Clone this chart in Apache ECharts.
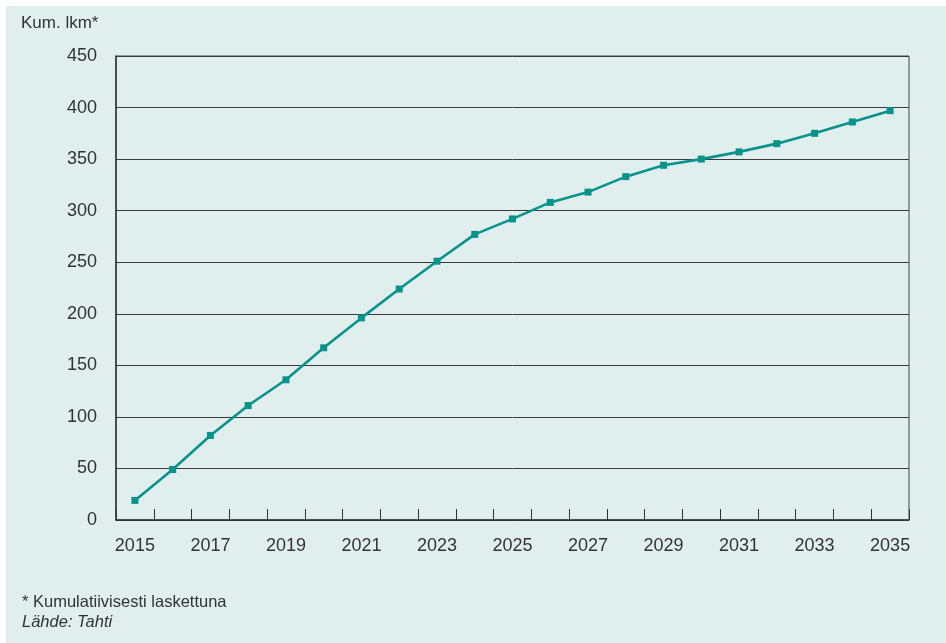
<!DOCTYPE html>
<html>
<head>
<meta charset="utf-8">
<script src="https://cdn.jsdelivr.net/npm/echarts@6/dist/echarts.min.js"></script>
<style>
html,body{margin:0;padding:0;background:#ffffff;}
#chart{width:946px;height:643px;}
</style>
</head>
<body>
<div id="chart"></div>
<script>
const years = ['2015','2016','2017','2018','2019','2020','2021','2022','2023','2024','2025','2026','2027','2028','2029','2030','2031','2032','2033','2034','2035'];
const values = [19, 49, 82, 111, 136, 167, 196, 224, 251, 277, 292, 308, 318, 333, 344, 350, 357, 365, 375, 386, 397];
const yTitle = 'Kum. lkm*';
const note1 = '* Kumulatiivisesti laskettuna';
const note2 = 'Lähde: Tahti';

const font = 'Liberation Sans, Arial, sans-serif';
const chart = echarts.init(document.getElementById('chart'), null, {renderer:'canvas'});
chart.setOption({
  backgroundColor: 'transparent',
  animation: false,
  textStyle: {fontFamily: font},
  graphic: [
    {type:'rect', z:-10, shape:{x:6,y:6,width:940,height:637}, style:{fill:'#e1eeee'}},
    {type:'text', left:21, top:15, style:{text:yTitle, font:'17px ' + font, fill:'#333'}},
    {type:'text', left:22, top:594, style:{text:note1, font:'16.5px ' + font, fill:'#333'}},
    {type:'text', left:22, top:614, style:{text:note2, font:'italic 16.5px ' + font, fill:'#333'}}
  ],
  grid: {left:116, top:56, right:37, bottom:123, show:true, borderColor:'#444', borderWidth:1, backgroundColor:'transparent'},
  xAxis: {
    type:'category', data: years, boundaryGap:true,
    axisLine:{lineStyle:{color:'#333', width:1.5}},
    axisTick:{show:true, inside:true, length:11, interval:0, lineStyle:{color:'#333'}},
    axisLabel:{interval:1, color:'#333', fontSize:18, margin:17, fontFamily: font}
  },
  yAxis: {
    type:'value', min:0, max:450, interval:50,
    axisLine:{show:true, lineStyle:{color:'#333', width:1.5}},
    axisTick:{show:false},
    axisLabel:{color:'#333', fontSize:18, margin:19, fontFamily: font},
    splitLine:{show:true, lineStyle:{color:'#3a3a3a', width:1}}
  },
  series: [{
    type:'line', data: values,
    symbol:'rect', symbolSize:7, showAllSymbol:true,
    lineStyle:{color:'#08938a', width:2.6},
    itemStyle:{color:'#08938a'}
  }]
});
</script>
</body>
</html>
